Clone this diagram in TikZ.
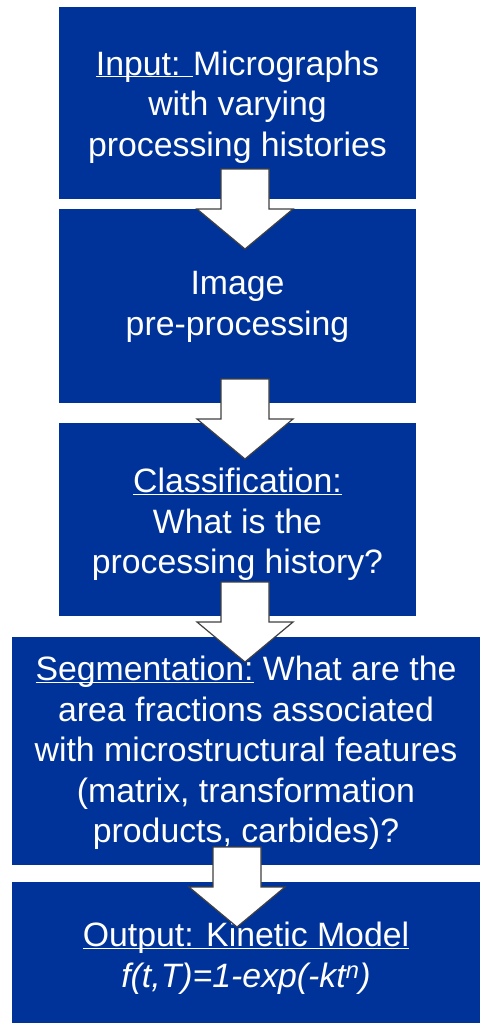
\documentclass[tikz,border=0pt]{standalone}
\usepackage{fontspec}
\setmainfont{Liberation Sans}
\usepackage{tikz}
\usetikzlibrary{positioning}
\definecolor{boxblue}{RGB}{0,51,153}
\tikzset{
  stepbox/.style = {rectangle, fill=boxblue, inner sep=0pt},
  steptext/.style = {text=white, align=center, inner sep=0pt,
    font=\fontsize{33.8}{40.6}\selectfont},
  blockarrow/.style = {fill=white, draw=black!75, line width=1.2pt,
    line join=miter}
}
\newcommand{\ulabel}[1]{\underline{\smash{#1}}}

\begin{document}
\begin{tikzpicture}[x=1pt,y=-1pt]
\useasboundingbox (0,0) rectangle (480,1023);

% the boxes
\node[stepbox, minimum width=357, minimum height=192] (input) at (237.5,103) {};
\node[stepbox, minimum width=357, minimum height=194] (prep) at (237.5,306) {};
\node[stepbox, minimum width=357, minimum height=193] (classif) at (237.5,519.5) {};
\node[stepbox, minimum width=468, minimum height=228] (segm) at (246,751) {};
\node[stepbox, minimum width=468, minimum height=141] (output) at (246,952.5) {};

% their texts
\node[steptext] (input-t) at ([yshift=-4]input.center)
  {\ulabel{Input: }Micrographs\\with varying\\processing histories};
\node[steptext] (prep-t) at ([yshift=-1]prep.center)
  {Image\\pre-processing};
\node[steptext] (classif-t) at ([yshift=-17]classif.center)
  {\ulabel{Classification:}\\What is the\\processing history?};
\node[steptext] (segm-t) at ([yshift=-2]segm.center)
  {\ulabel{Segmentation:} What are the\\area fractions associated\\with microstructural features\\(matrix, transformation\\products, carbides)?};
\node[steptext] (output-t) at ([yshift=-18]output.center)
  {\ulabel{Output: Kinetic Model}\\\textit{f(t,T)=1-exp(-kt\textsuperscript{n})}};

% block arrows, given by their tips
\coordinate (tip1) at (245,249);
\coordinate (tip2) at (245,459);
\coordinate (tip3) at (245,662);
\coordinate (tip4) at (237,927);
\foreach \t in {tip1,tip2,tip3,tip4}
  \draw[blockarrow] (\t) -- ++(48,-40) -- ++(-24,0) -- ++(0,-40) -- ++(-48,0)
    -- ++(0,40) -- ++(-24,0) -- cycle;
\end{tikzpicture}
\end{document}
